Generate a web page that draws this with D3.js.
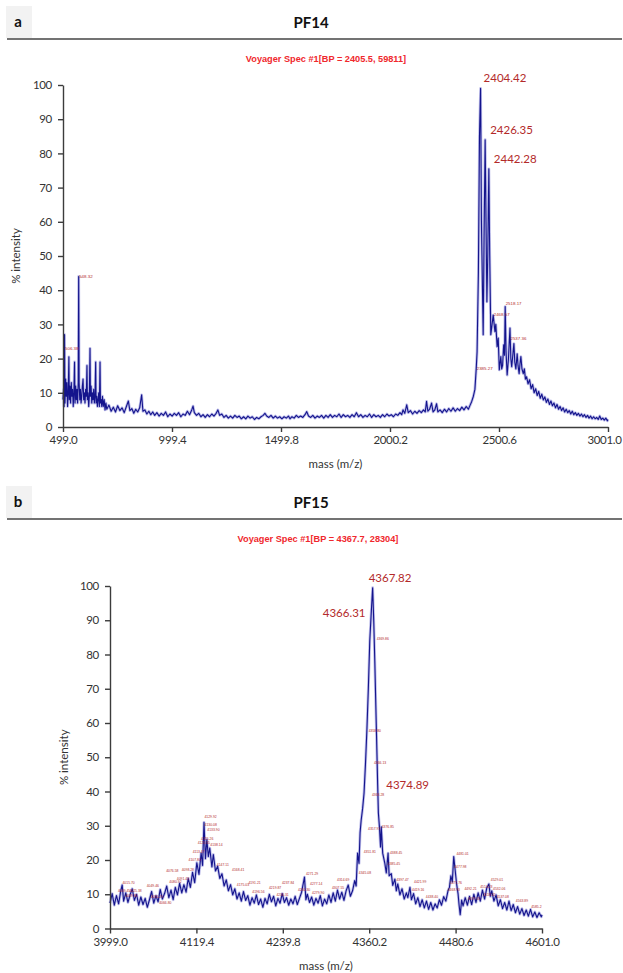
<!DOCTYPE html>
<html>
<head>
<meta charset="utf-8">
<script src="https://cdn.jsdelivr.net/npm/d3@7"></script>
<style>
  body { margin: 0; background: #fff; }
  svg { display: block; }
</style>
</head>
<body>
<svg id="chart" width="623" height="973"></svg>
<script>
// ---- data ----
const yTicks = [0, 10, 20, 30, 40, 50, 60, 70, 80, 90, 100];
const ticksA = [499.0, 999.4, 1499.8, 2000.2, 2500.6, 3001.0];
const ticksB = [3999.0, 4119.4, 4239.8, 4360.2, 4480.6, 4601.0];

// PF14 spectrum: [mass, % intensity]
const specA = [
  [499,8],[502,11],[504,6],[506,27],[508,7],[511,14],[514,9],[517,13],[520,6],[523,10],[526,20.5],[528,8],
  [531,12],[534,7],[537,13],[540,9],[543,11],[546,6],[549,10],[552,19],[554,7],[557,12],[560,8],[563,11],
  [566,7],[569,13],[571,44],[573,13],[576,8],[579,11],[582,7],[585,9],[588,12],[591,14],[594,8],[597,10],
  [600,7],[603,11],[606,9],[609,18],[611,8],[614,10],[617,6],[620,9],[623,23],[625,9],[628,12],[631,7],
  [634,10],[637,8],[640,11],[643,7],[646,9],[649,19],[651,7],[654,9],[657,6],[660,8],[663,10],[666,6],
  [669,19],[671,7],[674,8],[677,6],[680,9],[684,6],[688,8],[692,5],[696,7],
  [700,5.2],[710,6.4],[720,4.6],[730,5.8],[740,4.4],[750,6.2],[760,4.8],[770,5.6],[780,4.2],[790,6.0],
  [799,7.6],[806,4.8],[815,5.4],[824,4.0],[833,5.2],[842,4.4],[851,5.6],[860,9.4],[866,4.6],[875,5.0],
  [884,3.8],[893,4.6],[902,3.6],[911,4.4],[920,3.4],[930,4.2],[940,3.2],[950,4.0],[960,3.4],[970,4.4],
  [980,3.0],[990,3.8],[1000,3.2],[1010,4.0],[1020,3.4],[1030,4.2],[1040,3.0],[1050,3.8],[1060,3.4],
  [1070,4.6],[1080,3.6],[1090,5.0],[1096,6.1],[1102,4.2],[1112,3.4],[1122,4.0],[1132,3.0],[1142,3.6],
  [1152,2.8],[1162,3.6],[1172,3.0],[1182,3.8],[1192,3.2],[1202,4.0],[1210,5.0],[1218,3.4],[1228,3.8],
  [1238,2.8],[1248,3.4],[1258,2.6],[1268,3.2],[1278,2.6],[1288,3.4],[1298,2.8],[1308,3.2],[1318,2.4],
  [1328,3.0],[1338,2.4],[1348,3.2],[1358,2.6],[1368,3.0],[1378,2.2],[1388,2.8],[1398,2.4],[1408,3.0],
  [1418,3.4],[1426,4.0],[1434,3.2],[1444,2.8],[1454,3.4],[1464,2.6],[1474,3.2],[1484,2.6],[1494,3.0],
  [1504,2.4],[1514,3.0],[1524,2.6],[1534,3.2],[1541,2.4],[1550,3.0],[1560,2.6],[1570,3.4],[1580,2.8],
  [1590,3.2],[1600,2.8],[1610,3.6],[1618,4.5],[1626,3.2],[1636,2.8],[1646,3.4],[1656,2.6],[1666,3.2],
  [1676,2.8],[1686,3.4],[1696,2.6],[1706,3.4],[1716,2.8],[1726,3.6],[1736,2.8],[1746,3.4],[1756,3.0],
  [1766,3.8],[1776,2.8],[1786,3.6],[1796,3.0],[1806,3.4],[1816,2.8],[1826,3.6],[1836,3.0],[1846,4.2],
  [1856,3.0],[1866,3.6],[1876,2.8],[1886,3.4],[1896,3.0],[1906,3.8],[1916,2.8],[1926,3.6],[1936,3.0],
  [1946,3.4],[1956,2.8],[1966,3.6],[1976,3.0],[1986,3.8],[1996,3.2],[2006,3.6],[2016,3.0],[2026,3.8],
  [2036,3.4],[2046,4.2],[2054,3.6],[2060,5.0],[2068,4.0],[2077,6.5],[2084,4.2],[2094,4.8],[2104,3.8],
  [2114,4.6],[2124,4.0],[2134,4.8],[2144,4.2],[2154,5.0],[2162,4.4],[2168,7.5],[2174,4.6],[2182,5.2],
  [2191,7.0],[2198,4.4],[2206,5.0],[2214,6.8],[2220,4.4],[2230,5.0],[2240,4.2],[2250,5.2],[2260,4.4],
  [2270,5.4],[2280,4.6],[2290,5.6],[2300,4.6],[2310,5.4],[2320,4.8],[2330,5.8],[2340,5.0],[2350,6.0],
  [2360,5.2],[2368,6.4],[2375,7.4],[2383,9],[2390,11],[2396,17],[2400,22],[2406,45],[2411,85],[2416,99],
  [2420,60],[2428,27],[2432,55],[2437,84],[2441,60],[2445,36.6],[2449,50],[2454,75.5],[2458,50],[2463,27],
  [2474,32.7],[2482,27.9],[2486,30],[2492,23.5],[2497,26],[2502,16.7],[2509,20.6],[2513,17],[2517,18],
  [2522,24],[2526,21],[2529,35.2],[2533,22],[2538,15.2],[2544,20],[2551,28.9],[2555,20],[2559,17.6],
  [2564,21],[2569,24.4],[2573,19],[2578,17],[2584,21.4],[2588,18],[2593,15.6],[2597,18.5],[2601,20.6],
  [2606,17],[2612,15.6],[2617,17],[2622,14],[2627,14.7],[2634,12.6],[2641,13.8],[2648,11.2],[2655,12.4],
  [2662,10.0],[2669,11.2],[2676,9.2],[2683,10.4],[2690,8.4],[2697,9.6],[2704,7.9],[2711,8.8],[2718,7.2],
  [2725,8.2],[2732,6.6],[2739,7.6],[2746,6.2],[2753,7.0],[2760,5.6],[2767,6.6],[2774,5.2],[2781,6.0],
  [2788,4.8],[2795,5.6],[2802,4.4],[2809,5.2],[2816,4.2],[2823,4.8],[2830,3.8],[2837,4.6],[2844,3.6],
  [2851,4.2],[2858,3.4],[2865,4.0],[2872,3.2],[2879,3.8],[2886,3.0],[2893,3.6],[2900,2.8],[2907,3.4],
  [2914,2.6],[2921,3.2],[2928,2.4],[2935,3.0],[2942,2.4],[2949,2.8],[2956,2.2],[2963,3.2],[2970,2.2],
  [2977,2.6],[2984,2.0],[2991,2.6],[2998,1.8],[3001,2.2]
];

// PF15 spectrum: [mass, % intensity]
const specB = [
  [3999,7.4],[4002,10.2],[4005,6.8],[4008,9.6],[4011,7.2],[4014,11.0],[4016,12.7],[4018,8.0],[4021,10.4],
  [4024,7.6],[4027,9.8],[4030,11.6],[4033,8.2],[4036,10.0],[4039,6.8],[4042,9.2],[4045,7.0],[4048,8.8],
  [4051,6.2],[4054,8.4],[4057,10.8],[4060,7.4],[4063,9.6],[4066,7.8],[4069,11.4],[4072,8.6],[4075,10.2],
  [4078,12.4],[4081,9.0],[4084,11.2],[4087,8.4],[4090,12.0],[4093,9.8],[4096,13.2],[4099,10.4],[4102,12.8],
  [4105,10.6],[4108,14.6],[4111,12.0],[4114,16.4],[4117,13.4],[4120,19.2],[4123,15.8],[4126,22.0],
  [4128,18.4],[4130,31.0],[4132,20.4],[4134,26.0],[4136,21.0],[4138,23.5],[4141,18.0],[4143,21.6],
  [4146,16.8],[4149,18.2],[4152,14.6],[4155,16.0],[4158,12.4],[4161,14.2],[4164,11.0],[4167,12.8],
  [4170,9.8],[4173,11.6],[4176,8.6],[4179,10.4],[4182,8.0],[4185,10.8],[4188,8.2],[4191,9.6],[4194,6.8],
  [4197,9.0],[4200,7.4],[4203,9.8],[4206,7.0],[4209,8.6],[4212,6.2],[4215,8.8],[4218,7.2],[4221,10.0],
  [4224,7.8],[4227,9.4],[4230,6.6],[4233,8.8],[4236,7.4],[4239,10.2],[4242,7.6],[4245,9.0],[4248,6.8],
  [4251,8.6],[4254,7.2],[4257,9.4],[4260,7.0],[4263,8.8],[4266,10.6],[4270,15.0],[4272,8.4],[4274,10.0],
  [4277,7.6],[4280,9.2],[4283,6.8],[4286,8.8],[4289,7.4],[4292,9.6],[4295,6.6],[4298,8.6],[4301,7.2],
  [4304,9.8],[4307,7.6],[4310,10.4],[4313,8.0],[4316,11.2],[4319,8.6],[4322,10.6],[4325,8.2],[4328,11.0],
  [4331,12.7],[4334,9.4],[4337,11.0],[4340,14.0],[4342,12.4],[4344,22.0],[4346,19.0],[4347.5,28.0],
  [4349,31.6],[4351,35.0],[4353,39.5],[4355,48.0],[4357,58.0],[4359,70.0],[4361,84.0],[4363,92.0],
  [4365,99.5],[4366.5,90.0],[4368,78.0],[4370,60.0],[4372,42.0],[4373,33.7],[4374.5,29.6],[4376,23.8],
  [4377,29.7],[4379,22.0],[4382,19.0],[4384,16.2],[4386.5,22.0],[4388,15.4],[4391,16.0],[4393,12.6],
  [4396,14.4],[4398,11.0],[4400,13.0],[4403,9.8],[4406,11.6],[4409,8.6],[4412,10.4],[4414,9.0],[4417,12.0],
  [4419,8.4],[4422,10.2],[4425,7.2],[4428,9.0],[4431,6.4],[4434,8.4],[4437,6.0],[4440,8.0],[4443,5.6],
  [4446,7.6],[4449,5.4],[4452,7.2],[4455,6.0],[4458,8.4],[4461,6.8],[4464,9.3],[4467,8.0],[4470,11.0],
  [4472,12.0],[4474,15.4],[4476,13.6],[4478,21.0],[4480,17.0],[4482,13.0],[4484,10.2],[4485.5,6.8],
  [4487,4.0],[4489,8.3],[4491,6.6],[4494,9.0],[4497,6.8],[4500,9.4],[4503,7.0],[4506,10.0],[4509,7.6],
  [4512,10.4],[4515,8.0],[4518,11.2],[4521,8.6],[4524,11.8],[4527,13.0],[4529,9.4],[4531,11.0],[4534,8.0],
  [4537,9.8],[4540,6.6],[4543,8.4],[4546,5.8],[4549,7.6],[4552,5.4],[4555,8.0],[4558,5.2],[4561,7.0],
  [4564,4.6],[4567,6.4],[4570,4.2],[4573,5.8],[4576,3.8],[4579,5.4],[4582,3.6],[4585,5.6],[4588,3.4],
  [4591,4.8],[4594,3.2],[4597,4.6],[4600,3.4],[4601,4.0]
];

// big peak labels: [text, mass, intensity]
const bigLabelsA = [["2404.42", 2416, 99], ["2426.35", 2437, 84], ["2442.28", 2454, 75.5]];
const bigLabelsB = [["4367.82", 4365, 99.5], ["4366.31", 4362, 92], ["4374.89", 4377, 42]];

// small instrument peak labels: [text, mass, intensity]
const smallLabelsA = [
  ["506.38", 506, 23], ["548.32", 571, 44], ["2385.27", 2396, 17],
  ["2468.57", 2474, 33], ["2518.17", 2529, 36], ["2537.36", 2551, 26]
];
const smallLabelsB = [
  ["4009.45", 11], ["4015.70", 13.4], ["4019.82", 9.4], ["4025.38", 11], ["4049.46", 12.6],
  ["4055.25", 9.3], ["4076.58", 16.7], ["4080.92", 13.7], ["4066.80", 7.6], ["4091.43", 14.4],
  ["4098.28", 17], ["4107.80", 20], ["4113.47", 22.3], ["4120.55", 25], ["4125.26", 26.2],
  ["4129.92", 32.5], ["4130.08", 30.2], ["4133.90", 28.8], ["4138.14", 24.3], ["4147.11", 18.6],
  ["4168.41", 17], ["4175.03", 12.7], ["4191.21", 13.3], ["4196.56", 10.6], ["4219.87", 11.9],
  ["4237.84", 13.3], ["4230.31", 9.8], ["4260.30", 11.3], ["4271.29", 15.9], ["4277.14", 13],
  ["4279.90", 10.4], ["4307.55", 11.9], ["4314.69", 14.3], ["4345.08", 16.4], ["4351.81", 22.4],
  ["4357.93", 29], ["4363.28", 39], ["4366.13", 48.5], ["4358.80", 57.7], ["4369.86", 84.7],
  ["4376.85", 29.7], ["4388.45", 22], ["4385.45", 19], ["4397.47", 14.1], ["4421.99", 13.6],
  ["4419.16", 11.2], ["4438.40", 9.3], ["4481.01", 21.9], ["4477.98", 18], ["4471.76", 13.4],
  ["4468.93", 11.2], ["4492.21", 11.7], ["4497.05", 8.8], ["4514.23", 12.2], ["4529.01", 14.3],
  ["4532.06", 11.7], ["4518.32", 9.8], ["4537.08", 9.3], ["4563.89", 8.1], ["4585.2", 6.2]
];

// ---- layout ----
const svg = d3.select('#chart');
const font = 'Lato, "Open Sans", sans-serif';
const red = '#b32a2a';

const panels = [
  {
    letter: 'a', title: 'PF14', top: 0,
    sub: 'Voyager Spec #1[BP = 2405.5, 59811]', subX: 326,
    left: 63, right: 608, yTop: 85, yBottom: 427,
    domain: [499, 3001], ticks: ticksA, spec: specA,
    big: bigLabelsA, small: smallLabelsA.map(d => d),
    smallSize: 4.4, ylabX: 20, lastTickShift: -4
  },
  {
    letter: 'b', title: 'PF15', top: 480,
    sub: 'Voyager Spec #1[BP = 4367.7, 28304]', subX: 318,
    left: 110, right: 542, yTop: 586, yBottom: 928.5,
    domain: [3999, 4601], ticks: ticksB, spec: specB,
    big: bigLabelsB, small: smallLabelsB.map(d => [d[0], +d[0], d[1]]),
    smallSize: 3.4, ylabX: 68, lastTickShift: 0
  }
];

panels.forEach(p => {
  const g = svg.append('g');
  const t = p.top;

  // header: letter box, title and rule
  g.append('rect')
    .attr('x', 6).attr('y', t + 6).attr('width', 26).attr('height', 32)
    .attr('fill', '#f2f2f2');
  g.append('text')
    .attr('x', 18).attr('y', t + 27)
    .attr('text-anchor', 'middle')
    .attr('font-family', font).attr('font-weight', 'bold').attr('font-size', 15)
    .attr('fill', '#111')
    .text(p.letter);
  g.append('text')
    .attr('x', 311).attr('y', t + 28)
    .attr('text-anchor', 'middle')
    .attr('font-family', font).attr('font-weight', 'bold').attr('font-size', 15)
    .attr('fill', '#111')
    .text(p.title);
  g.append('line')
    .attr('x1', 7).attr('x2', 622).attr('y1', t + 39).attr('y2', t + 39)
    .attr('stroke', '#444').attr('stroke-width', 1.6);

  g.append('text')
    .attr('x', p.subX).attr('y', t + 62)
    .attr('text-anchor', 'middle')
    .attr('font-family', '"Liberation Sans", Arial, sans-serif')
    .attr('font-weight', 'bold').attr('font-size', 9.2)
    .attr('fill', '#f0282d')
    .text(p.sub);

  const x = d3.scaleLinear().domain(p.domain).range([p.left, p.right]);
  const y = d3.scaleLinear().domain([0, 100]).range([p.yBottom, p.yTop]);

  // spectrum: light halo under a dark trace
  const line = d3.line().x(d => x(d[0])).y(d => y(d[1]));
  g.append('path').datum(p.spec)
    .attr('d', line)
    .attr('fill', 'none')
    .attr('stroke', '#7f7fd8').attr('stroke-width', 2.8).attr('stroke-opacity', 0.5)
    .attr('stroke-linejoin', 'round');
  g.append('path').datum(p.spec)
    .attr('d', line)
    .attr('fill', 'none')
    .attr('stroke', '#14148c').attr('stroke-width', 1.1)
    .attr('stroke-linejoin', 'round');

  // axes
  const yAxis = g.append('g')
    .attr('transform', `translate(${p.left},0)`)
    .call(d3.axisLeft(y).tickValues(yTicks).tickSize(5).tickSizeOuter(0).tickPadding(6));
  const xAxis = g.append('g')
    .attr('transform', `translate(0,${p.yBottom})`)
    .call(d3.axisBottom(x).tickValues(p.ticks).tickFormat(d3.format('.1f'))
      .tickSize(5).tickSizeOuter(0).tickPadding(4));
  [yAxis, xAxis].forEach(a => {
    a.select('.domain').attr('stroke', '#3c3c3c').attr('stroke-width', 1.4);
    a.selectAll('.tick line').attr('stroke', '#3c3c3c').attr('stroke-width', 1.4);
    a.selectAll('.tick text')
      .attr('font-family', font).attr('font-size', 11.5).attr('fill', '#333')
      .attr('letter-spacing', -0.3);
  });
  // keep the last mass label inside the page
  xAxis.selectAll('.tick text').filter((d, i, n) => i === n.length - 1)
    .attr('dx', p.lastTickShift);

  g.append('text')
    .attr('x', (p.left + p.right) / 2).attr('y', p.yBottom + 41)
    .attr('text-anchor', 'middle')
    .attr('font-family', font).attr('font-size', 11.5).attr('fill', '#333')
    .text('mass (m/z)');
  g.append('text')
    .attr('transform', `translate(${p.ylabX},${(p.yTop + p.yBottom) / 2}) rotate(-90)`)
    .attr('text-anchor', 'middle')
    .attr('font-family', font).attr('font-size', 11.5).attr('fill', '#333')
    .text('% intensity');

  // small peak annotations
  g.selectAll('text.small').data(p.small).enter().append('text')
    .attr('class', 'small')
    .attr('x', d => x(d[1]) + 0.5).attr('y', d => y(d[2]))
    .attr('dy', '0.35em')
    .attr('font-family', '"Liberation Sans", Arial, sans-serif')
    .attr('font-size', p.smallSize).attr('fill', red)
    .text(d => d[0]);

  // big peak annotations
  g.selectAll('text.big').data(p.big).enter().append('text')
    .attr('class', 'big')
    .attr('x', (d, i) => {
      if (p.letter === 'b') return i === 1 ? x(d[1]) - 5 : (i === 0 ? x(d[1]) - 4 : x(d[1]) + 5);
      return x(d[1]) + (i === 0 ? 3 : 5);
    })
    .attr('y', (d, i) => {
      if (p.letter === 'b') return i === 0 ? y(d[2]) - 10 : y(d[2]);
      return y(d[2]) - 10;
    })
    .attr('dy', '0.35em')
    .attr('text-anchor', (d, i) => (p.letter === 'b' && i === 1) ? 'end' : 'start')
    .attr('font-family', font).attr('font-size', 11.5).attr('fill', red)
    .text(d => d[0]);
});
</script>
</body>
</html>
